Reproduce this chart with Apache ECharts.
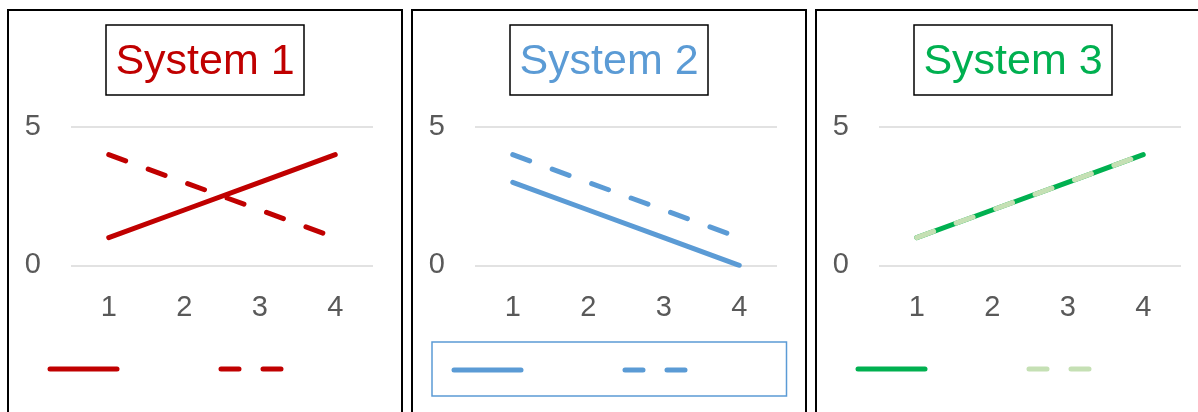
<!DOCTYPE html>
<html>
<head>
<meta charset="utf-8">
<script src="https://cdn.jsdelivr.net/npm/echarts@6/dist/echarts.min.js"></script>
<style>
  html, body { margin: 0; padding: 0; background: #fff; width: 1198px; height: 412px; overflow: hidden; }
  .chart { position: absolute; top: 9px; width: 396px; height: 403px; }
  .frame { position: absolute; top: 9px; width: 396px; height: 430px; border: 2px solid #000;
           box-sizing: border-box; pointer-events: none; }
</style>
</head>
<body>
<script>
// Category labels along the x axis
const categories = ['1', '2', '3', '4'];

// Value range of the y axis (labels at 0 and 5)
const yMin = 0;
const yMax = 5;

// Panel titles
const titles = ['System 1', 'System 2', 'System 3'];

// Values per system: a solid series and a dashed series
const system1Solid  = [1, 2, 3, 4];
const system1Dashed = [4, 3, 2, 1];
const system2Solid  = [3, 2, 1, 0];
const system2Dashed = [4, 3, 2, 1];
const system3Solid  = [1, 2, 3, 4];
const system3Dashed = [1, 2, 3, 4];

const solidColors  = ['#C00000', '#5B9BD5', '#00B050'];
const dashedColors = ['#C00000', '#5B9BD5', '#C5E0B4'];

const panels = [
  { solid: system1Solid, dashed: system1Dashed, boxedLegend: false },
  { solid: system2Solid, dashed: system2Dashed, boxedLegend: true },
  { solid: system3Solid, dashed: system3Dashed, boxedLegend: false }
];

const FONT = '"Liberation Sans", Arial, sans-serif';

panels.forEach(function (p, i) {
  const left = 7 + 404 * i;

  const el = document.createElement('div');
  el.className = 'chart';
  el.style.left = left + 'px';
  document.body.appendChild(el);

  const frame = document.createElement('div');
  frame.className = 'frame';
  frame.style.left = left + 'px';
  document.body.appendChild(frame);

  const chart = echarts.init(el, null, { renderer: 'canvas' });

  const legend = {
    show: true,
    left: 40.5,
    top: 355,
    orient: 'horizontal',
    selectedMode: false,
    itemWidth: 67,
    itemHeight: 10,
    itemGap: 99,
    padding: 0,
    formatter: function () { return ''; },
    textStyle: { fontSize: 10 },
    itemStyle: { opacity: 0 },
    lineStyle: { width: 5 },
    data: ['solid', 'dashed']
  };
  if (p.boxedLegend) {
    legend.left = 21;
    legend.top = 333;
    legend.padding = [23, 92, 22, 19.5];
    legend.borderColor = '#5B9BD5';
    legend.borderWidth = 1.5;
  }

  chart.setOption({
    animation: false,
    backgroundColor: 'transparent',
    title: {
      text: titles[i],
      left: 'center',
      top: 16,
      padding: [16, 10, 11, 10],
      borderColor: '#000',
      borderWidth: 1.5,
      textStyle: {
        fontFamily: FONT,
        fontSize: 43,
        fontWeight: 'normal',
        color: solidColors[i]
      }
    },
    legend: legend,
    grid: { left: 64, top: 118, width: 302, height: 138.3 },
    xAxis: {
      type: 'category',
      data: categories,
      boundaryGap: true,
      axisLine: { show: false },
      axisTick: { show: false },
      axisLabel: { fontFamily: FONT, fontSize: 29, color: '#595959', margin: 28 }
    },
    yAxis: {
      type: 'value',
      min: yMin,
      max: yMax,
      interval: 5,
      axisLine: { show: false },
      axisTick: { show: false },
      axisLabel: { fontFamily: FONT, fontSize: 29, color: '#595959', margin: 30 },
      splitLine: { show: true, lineStyle: { color: '#D9D9D9', width: 1.5 } }
    },
    series: [
      {
        name: 'solid',
        type: 'line',
        data: p.solid,
        symbol: 'none',
        color: solidColors[i],
        lineStyle: { width: 5, color: solidColors[i], cap: 'round', join: 'round' }
      },
      {
        name: 'dashed',
        type: 'line',
        data: p.dashed,
        symbol: 'none',
        color: dashedColors[i],
        lineStyle: { width: 5, color: dashedColors[i], type: [18, 24], cap: 'round', join: 'round' }
      }
    ]
  });
});
</script>
</body>
</html>
